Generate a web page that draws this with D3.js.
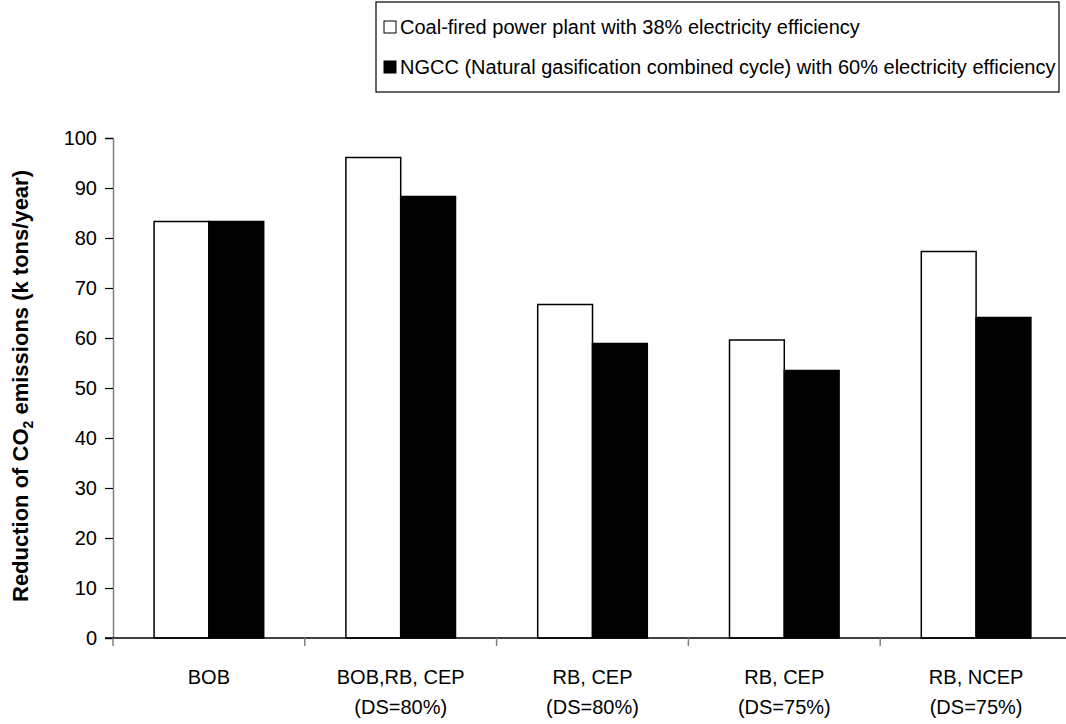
<!DOCTYPE html>
<html>
<head>
<meta charset="utf-8">
<script src="https://cdn.jsdelivr.net/npm/d3@7/dist/d3.min.js"></script>
<style>
  html, body { margin: 0; padding: 0; background: #fff; }
  svg { display: block; font-family: "Liberation Sans", Arial, sans-serif; }
</style>
</head>
<body>
<svg id="chart" width="1066" height="724"></svg>
<script>
// Scenario categories (two-line labels)
const categories = ["BOB", "BOB,RB, CEP|(DS=80%)", "RB, CEP|(DS=80%)", "RB, CEP|(DS=75%)", "RB, NCEP|(DS=75%)"];
const seriesNames = [
  "Coal-fired power plant with 38% electricity efficiency",
  "NGCC (Natural gasification combined cycle) with 60% electricity efficiency"
];
// Reduction of CO2 emissions, k tons/year
const coalValues = [83.3, 96.1, 66.7, 59.6, 77.3];
const ngccValues = [83.3, 88.3, 58.9, 53.5, 64.1];
const yTicks = [0, 10, 20, 30, 40, 50, 60, 70, 80, 90, 100];
const seriesFill = ["#ffffff", "#000000"];

const svg = d3.select("#chart");
const plot = { left: 113, right: 1072, top: 138, bottom: 638 };

const x0 = d3.scaleBand().domain(categories).range([plot.left, plot.right]).padding(0);
const x1 = d3.scaleBand().domain([0, 1]).range([0, x0.bandwidth()])
  .paddingInner(0).paddingOuter(0.75);
const y = d3.scaleLinear().domain([0, 100]).range([plot.bottom, plot.top]);

// Bars
const rows = categories.map((c, i) => ({ cat: c, vals: [coalValues[i], ngccValues[i]] }));
const groups = svg.append("g").selectAll("g").data(rows).join("g")
  .attr("transform", d => `translate(${x0(d.cat)},0)`);
groups.selectAll("rect").data(d => d.vals.map((v, s) => ({ v, s }))).join("rect")
  .attr("x", d => x1(d.s))
  .attr("y", d => y(d.v))
  .attr("width", x1.bandwidth())
  .attr("height", d => y(0) - y(d.v))
  .attr("fill", d => seriesFill[d.s])
  .attr("stroke", "#000")
  .attr("stroke-width", 1.5);

// Y axis
const yAxis = svg.append("g").attr("transform", `translate(${plot.left},0)`)
  .call(d3.axisLeft(y).tickValues(yTicks).tickSize(8).tickPadding(8).tickFormat(d3.format("d")));
yAxis.select(".domain").attr("stroke", "#808080").attr("stroke-width", 1.5);
yAxis.selectAll(".tick line").attr("stroke", "#000").attr("stroke-width", 1.2);
yAxis.selectAll(".tick text").attr("font-size", 20).attr("fill", "#000")
  .attr("font-family", "Liberation Sans, Arial, sans-serif");

// X axis line and category separators
svg.append("line")
  .attr("x1", plot.left - 8).attr("x2", plot.right)
  .attr("y1", y(0)).attr("y2", y(0))
  .attr("stroke", "#000").attr("stroke-width", 1.5);
const sepX = categories.map(c => x0(c)).slice(1).concat([plot.left]);
svg.append("g").selectAll("line").data(sepX).join("line")
  .attr("x1", d => d).attr("x2", d => d)
  .attr("y1", y(0)).attr("y2", y(0) + 8)
  .attr("stroke", "#808080").attr("stroke-width", 1.5);

// Category labels
const catLabels = svg.append("g").selectAll("text").data(categories).join("text")
  .attr("x", d => x0(d) + x0.bandwidth() / 2)
  .attr("y", 684)
  .attr("text-anchor", "middle")
  .attr("font-size", 20)
  .attr("fill", "#000");
catLabels.each(function (d) {
  const parts = d.split("|");
  const t = d3.select(this);
  parts.forEach((p, i) => {
    t.append("tspan").attr("x", x0(d) + x0.bandwidth() / 2).attr("dy", i === 0 ? 0 : 30).text(p);
  });
});

// Y axis title
const title = svg.append("text")
  .attr("transform", `translate(28,${(plot.top + plot.bottom) / 2 - 2}) rotate(-90)`)
  .attr("text-anchor", "middle")
  .attr("font-size", 22)
  .attr("font-weight", "bold")
  .attr("fill", "#000");
title.append("tspan").text("Reduction of CO");
title.append("tspan").attr("font-size", 14).attr("dy", 5).text("2");
title.append("tspan").attr("dy", -5).text(" emissions (k tons/year)");

// Legend
const legend = svg.append("g");
legend.append("rect")
  .attr("x", 376).attr("y", 2).attr("width", 683).attr("height", 90)
  .attr("fill", "#fff").attr("stroke", "#000").attr("stroke-width", 1.2);
const legItems = legend.selectAll("g.item").data(seriesNames).join("g")
  .attr("class", "item")
  .attr("transform", (d, i) => `translate(0,${27 + i * 40})`);
legItems.append("rect")
  .attr("x", 384).attr("y", -6).attr("width", 12).attr("height", 12)
  .attr("fill", (d, i) => seriesFill[i]).attr("stroke", "#000").attr("stroke-width", 1);
legItems.append("text")
  .attr("x", 400).attr("y", 7)
  .attr("font-size", 20).attr("fill", "#000")
  .text(d => d);
</script>
</body>
</html>
